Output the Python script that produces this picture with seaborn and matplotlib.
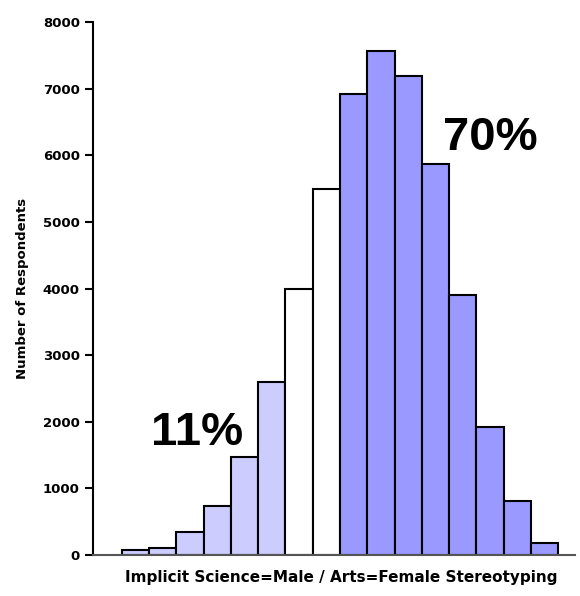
import numpy as np
import pandas as pd
import matplotlib
matplotlib.use("Agg")
import matplotlib.pyplot as plt
import seaborn as sns

# ===================== DATA =====================
bins = [f"b{i}" for i in range(16)]
counts = [75, 110, 350, 740, 1470, 2600, 3990, 5490,
          6920, 7570, 7190, 5870, 3900, 1920, 810, 180]
groups = ["male_arts"] * 6 + ["neutral"] * 2 + ["female_arts"] * 8
group_colors = {"male_arts": "#CCCCFF", "neutral": "#FFFFFF", "female_arts": "#9999FF"}
yticks = [0, 1000, 2000, 3000, 4000, 5000, 6000, 7000, 8000]

df = pd.DataFrame({"bin": bins, "count": counts, "group": groups})
bar_colors = [group_colors[g] for g in groups]

# ===================== PLOT =====================
sns.set_style("white")
plt.rcParams["font.family"] = ["DejaVu Sans"]
plt.rcParams["text.color"] = "black"
plt.rcParams["axes.labelcolor"] = "black"
plt.rcParams["ytick.color"] = "black"

fig = plt.figure(figsize=(5.8, 5.96), dpi=100)
ax = fig.add_axes([93 / 580, 41 / 596, 482 / 580, 533 / 596])

sns.barplot(data=df, x="bin", y="count", hue="bin", palette=bar_colors,
            width=1.0, edgecolor="black", linewidth=1.5, legend=False,
            saturation=1, ax=ax)

ax.set_xlim(-1.56, 16.12)
ax.set_ylim(0, 8000)
ax.set_yticks(yticks)
ax.set_yticklabels([str(t) for t in yticks], fontsize=9.5, fontweight="bold")
ax.set_xticks([])
ax.tick_params(axis="y", direction="out", length=6, width=1.5, pad=3.5, left=True)

for side in ["top", "right"]:
    ax.spines[side].set_visible(False)
ax.spines["left"].set_linewidth(1.5)
ax.spines["left"].set_color("black")
ax.spines["bottom"].set_linewidth(1.5)
ax.spines["bottom"].set_color("#555555")

ax.set_xlabel("Implicit Science=Male / Arts=Female Stereotyping",
              fontsize=11, fontweight="bold")
ax.xaxis.set_label_coords(0.515, -0.028, transform=ax.transAxes)
ax.xaxis.label.set_va("top")
ax.set_ylabel("Number of Respondents", fontsize=9.5, fontweight="bold", labelpad=10)

ax.text(2.25, 1650, "11%", fontsize=34, fontweight="bold", ha="center",
        va="baseline", family="Liberation Sans", color="black")
ax.text(13.0, 6080, "70%", fontsize=34, fontweight="bold", ha="center",
        va="baseline", family="Liberation Sans", color="black")

fig.savefig("out.png", dpi=100)
